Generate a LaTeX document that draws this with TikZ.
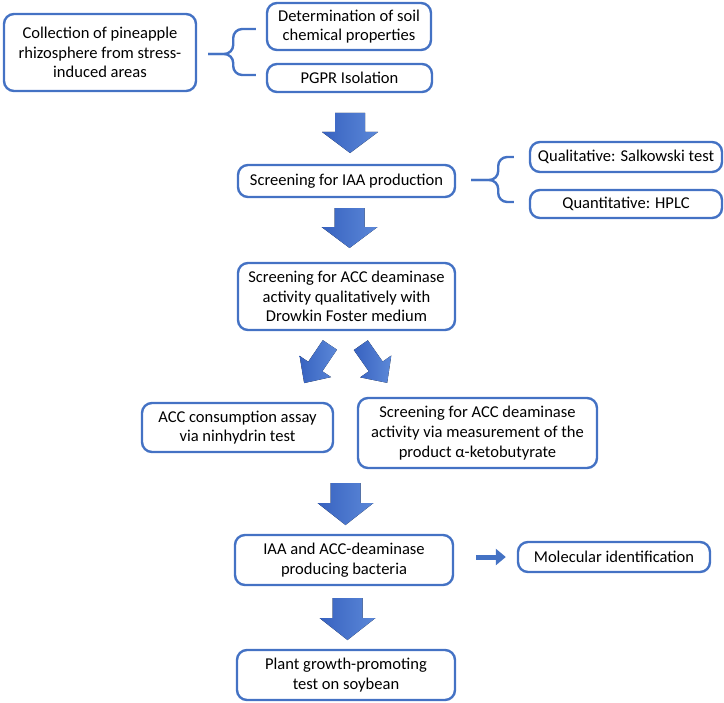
\documentclass[tikz,border=0pt]{standalone}
\usepackage{fontspec}
\setmainfont{Carlito}
\usetikzlibrary{calc,arrows.meta}
\definecolor{boxblue}{HTML}{4472C4}
\definecolor{arrdark}{HTML}{3762C0}
\definecolor{arrlight}{HTML}{5C88D8}
\tikzset{
  box/.style={draw=boxblue, line width=2.4bp, rounded corners=10bp, align=center,
    inner sep=0pt, font=\fontsize{16.6}{19.8}\selectfont, text=black},
  brace/.style={draw=boxblue, line width=2.4bp, rounded corners=9bp},
  pics/barrow/.style args={#1/#2/#3/#4}{code={
    \fill[left color=arrdark, right color=arrlight]
      (-#2/2,-#1/2) -- (#2/2,-#1/2) -- (#2/2,#1/2-#4) -- (#3/2,#1/2-#4) -- (0,#1/2)
      -- (-#3/2,#1/2-#4) -- (-#2/2,#1/2-#4) -- cycle;
  }}
}
\begin{document}
\begin{tikzpicture}[x=1bp,y=-1bp]
\useasboundingbox (0,0) rectangle (724,703);
% boxes
\node[box, minimum width=192bp, minimum height=77bp] (c1) at (100,52.5)
  {Collection of pineapple\\rhizosphere from stress-\\induced areas};
\node[box, minimum width=164bp, minimum height=47bp] (det) at (349,26.5)
  {Determination of soil\\chemical properties};
\node[box, minimum width=165bp, minimum height=28bp] (pgpr) at (349.5,78)
  {PGPR Isolation};
\node[box, minimum width=217bp, minimum height=32bp] (iaa) at (346.5,181)
  {Screening for IAA production};
\node[box, minimum width=192bp, minimum height=30bp] (qual) at (626,157)
  {Qualitative: Salkowski test};
\node[box, minimum width=192bp, minimum height=28bp] (quant) at (626,204)
  {Quantitative: HPLC};
\node[box, minimum width=217bp, minimum height=67bp] (acc) at (346.5,296.5)
  {Screening for ACC deaminase\\activity qualitatively with\\Drowkin Foster medium};
\node[box, minimum width=191bp, minimum height=49bp] (cons) at (237.5,427.5)
  {ACC consumption assay\\via ninhydrin test};
\node[box, minimum width=239bp, minimum height=70bp] (meas) at (477.5,433)
  {Screening for ACC deaminase\\activity via measurement of the\\product α-ketobutyrate};
\node[box, minimum width=218bp, minimum height=50bp] (iaab) at (344,560)
  {IAA and ACC-deaminase\\producing bacteria};
\node[box, minimum width=192bp, minimum height=30bp] (mol) at (614,557)
  {Molecular identification};
\node[box, minimum width=218bp, minimum height=50bp] (plant) at (346,675)
  {Plant growth-promoting\\test on soybean};
% braces
\coordinate (b1) at ($(c1.east)+(11,1.5)$);
\coordinate (b1m) at ($(b1)+(25,0)$);
\draw[brace] ($(det.west)+(-10,2.5)$) -| (b1m) -- (b1);
\draw[brace] ($(pgpr.west)+(-10,-3)$) -| (b1m) -- (b1);
\coordinate (b2) at ($(iaa.east)+(15,-1)$);
\coordinate (b2m) at ($(b2)+(27,0)$);
\draw[brace] ($(qual.west)+(-15,0)$) -| (b2m) -- (b2);
\draw[brace] ($(quant.west)+(-15,-2)$) -| (b2m) -- (b2);
% block arrows
\pic at (350,133) {barrow=40/30/56/21};
\pic at (349.5,228) {barrow=40/30/56/21};
\pic[rotate=-34] at (317,364) {barrow=46/17/38/20};
\pic[rotate=35] at (374,364) {barrow=46/17/38/20};
\pic at (345.5,504) {barrow=42/30/56/22};
\pic at (347.5,619) {barrow=42/30/56/22};
% small arrow
\draw[draw=boxblue, line width=5bp, -{Triangle[length=10bp,width=16bp]},
  shorten <=22bp, shorten >=11bp] (iaab.east |- mol.west) -- (mol.west);
\end{tikzpicture}
\end{document}
